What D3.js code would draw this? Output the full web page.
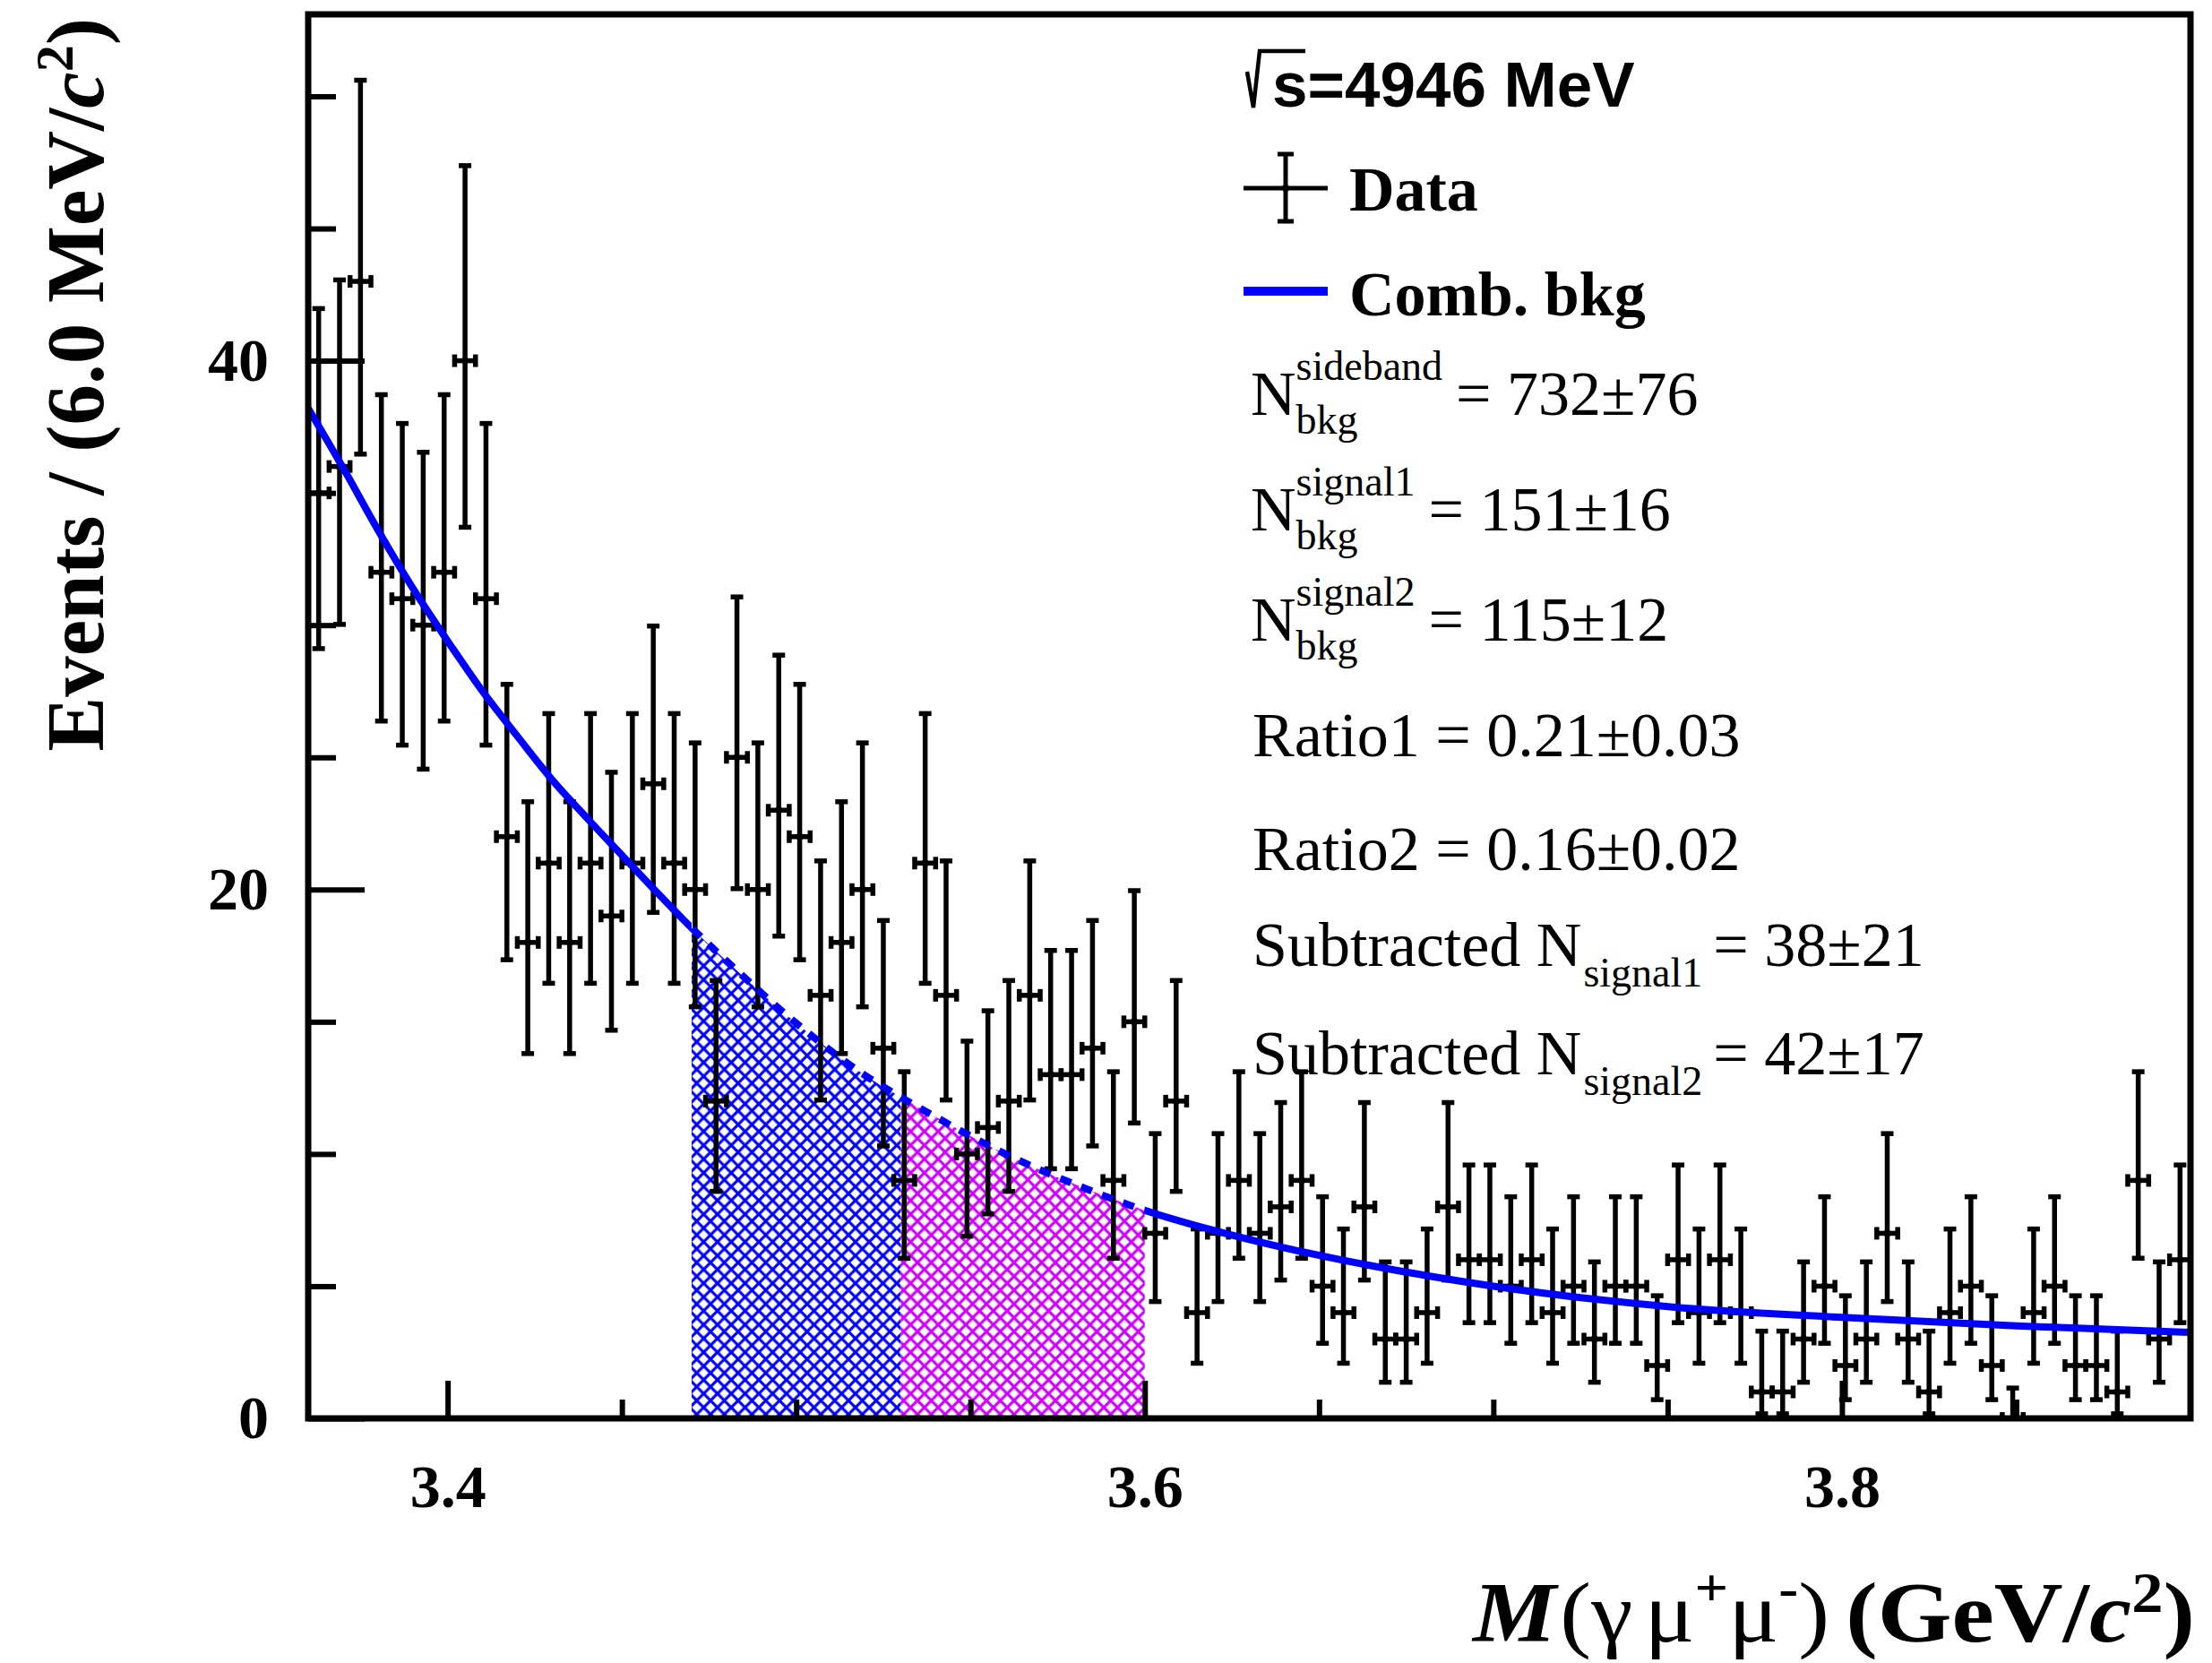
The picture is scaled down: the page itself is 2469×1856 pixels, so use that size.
<!DOCTYPE html>
<html>
<head>
<meta charset="utf-8">
<script src="https://cdn.jsdelivr.net/npm/d3@7"></script>
<style>
  html, body { margin: 0; padding: 0; background: #ffffff; }
  svg { display: block; }
</style>
</head>
<body>
<svg id="chart" width="2469" height="1856"></svg>
<script>
// ---- Histogram: M(gamma mu+ mu-), 6 MeV bins starting at 3.36 GeV ----
const binStart = 3.36;
const binWidth = 0.006;
const counts = [
  35, 36, 43, 32, 31, 30, 32, 40, 31, 22,
  18, 21, 18, 21, 19, 21, 24, 21, 20, 12,
  25, 20, 23, 22, 16, 18, 20, 14,  9, 21,
  16, 10, 11, 12, 16, 13, 13, 14,  9, 15,
   7, 12,  4,  7,  9,  7,  8,  9,  5,  4,
   8,  3,  3,  4,  8,  6,  6,  5,  6,  4,
   5,  3,  5,  5,  2,  6,  4,  6,  4,  1,
   1,  3,  5,  2,  3,  7,  3,  1,  4,  5,
   2,  0,  4,  5,  2,  2,  1,  9,  3,  6
];

// ---- Combinatorial background shape (sampled) ----
const bkgMass  = [3.36, 3.37, 3.38, 3.39, 3.40, 3.41, 3.42, 3.43, 3.44, 3.45,
                  3.46, 3.47, 3.48, 3.50, 3.52, 3.53, 3.54, 3.56, 3.58, 3.60,
                  3.62, 3.64, 3.66, 3.70, 3.75, 3.80, 3.85, 3.90];
const bkgValue = [38.2, 35.95, 33.6, 31.4, 29.4, 27.5, 25.8, 24.15, 22.7, 21.3,
                  19.9, 18.55, 17.3, 14.95, 12.95, 12.15, 11.4, 10.0, 8.85, 7.87,
                  7.1, 6.45, 5.9, 5.0, 4.23, 3.82, 3.5, 3.25];

// ---- Signal windows ----
const windowLow  = [3.47, 3.53];
const windowHigh = [3.53, 3.60];

// ---- Axis ticks ----
const xMajorTicks = [3.4, 3.6, 3.8];
const xMinorTicks = [3.45, 3.5, 3.55, 3.65, 3.7, 3.75, 3.85];
const yMajorTicks = [0, 20, 40];
const yMinorTicks = [5, 10, 15, 25, 30, 35, 45, 50];

// ---- Styling ----
const SERIF = "'Liberation Serif', 'Times New Roman', serif";
const SANS = "'Liberation Sans', Arial, sans-serif";
const BLUE = "#0000ff";
const MAGENTA = "#cf00ff";
const windowColor = [BLUE, MAGENTA];

const svg = d3.select("#chart");
svg.append("rect").attr("width", 2469).attr("height", 1856).attr("fill", "#ffffff");

const frame = { left: 344, right: 2445, top: 16, bottom: 1583 };
const x = d3.scaleLinear().domain([3.36, 3.90]).range([frame.left, frame.right]);
const y = d3.scaleLinear().domain([0, 53.1]).range([frame.bottom, frame.top]);

// Central 68.27% Poisson interval for an observed count (upper limit for n = 0)
function poissonCdf(k, mu) {
  let term = Math.exp(-mu), sum = term;
  for (let i = 1; i <= k; i++) { term *= mu / i; sum += term; }
  return sum;
}
function solveMu(k, target) {
  let lo = 0, hi = k + 80;
  for (let it = 0; it < 90; it++) {
    const mid = (lo + hi) / 2;
    if (poissonCdf(k, mid) > target) lo = mid; else hi = mid;
  }
  return (lo + hi) / 2;
}
const tailProb = 1 - 0.682689;
function poissonInterval(n) {
  if (n === 0) return [0, solveMu(0, tailProb)];
  return [solveMu(n - 1, 1 - tailProb / 2), solveMu(n, tailProb / 2)];
}

const bins = counts.map((n, i) => {
  const lo = binStart + i * binWidth;
  const [eLo, eHi] = poissonInterval(n);
  return { lo, hi: lo + binWidth, mid: lo + binWidth / 2, n, eLo, eHi };
});
const bkgPoints = bkgMass.map((m, i) => ({ m, v: bkgValue[i] }));

// ---- Clip paths and hatch patterns ----
const defs = svg.append("defs");
defs.append("clipPath").attr("id", "plotClip")
  .append("rect").attr("x", frame.left).attr("y", frame.top)
  .attr("width", frame.right - frame.left).attr("height", frame.bottom - frame.top);

const solidClip = defs.append("clipPath").attr("id", "solidClip");
solidClip.append("rect").attr("x", frame.left).attr("y", frame.top)
  .attr("width", x(windowLow[0]) - frame.left).attr("height", frame.bottom - frame.top);
solidClip.append("rect").attr("x", x(windowHigh[1])).attr("y", frame.top)
  .attr("width", frame.right - x(windowHigh[1])).attr("height", frame.bottom - frame.top);
defs.append("clipPath").attr("id", "dashClip")
  .append("rect").attr("x", x(windowLow[0])).attr("y", frame.top)
  .attr("width", x(windowHigh[1]) - x(windowLow[0])).attr("height", frame.bottom - frame.top);

const hatchSize = 15.4;
windowLow.forEach((lo, i) => {
  const p = defs.append("pattern").attr("id", "hatch" + i)
    .attr("patternUnits", "userSpaceOnUse")
    .attr("width", hatchSize).attr("height", hatchSize);
  p.append("path")
    .attr("d", `M-3,-3L${hatchSize + 3},${hatchSize + 3}M${hatchSize + 3},-3L-3,${hatchSize + 3}`)
    .attr("stroke", windowColor[i]).attr("stroke-width", 3.2).attr("fill", "none");
  defs.append("clipPath").attr("id", "winClip" + i)
    .append("rect").attr("x", x(lo)).attr("y", frame.top)
    .attr("width", x(windowHigh[i]) - x(lo)).attr("height", frame.bottom - frame.top);
});

// ---- Hatched background areas inside the signal windows ----
const area = d3.area().x(d => x(d.m)).y0(y(0)).y1(d => y(d.v)).curve(d3.curveMonotoneX);
windowLow.forEach((lo, i) => {
  svg.append("path").datum(bkgPoints)
    .attr("d", area)
    .attr("fill", `url(#hatch${i})`)
    .attr("clip-path", `url(#winClip${i})`);
});

// ---- Axes (ticks point into the frame) ----
function styleAxis(g) {
  g.select(".domain").remove();
  g.selectAll(".tick line").attr("stroke", "#000").attr("stroke-width", 6);
  g.selectAll(".tick text")
    .attr("font-family", SERIF).attr("font-weight", "bold")
    .attr("font-size", 68).attr("fill", "#000");
}
svg.append("g").attr("transform", `translate(0,${frame.bottom})`)
  .call(d3.axisBottom(x).tickValues(xMinorTicks).tickSize(-21).tickFormat(""))
  .call(styleAxis);
svg.append("g").attr("transform", `translate(0,${frame.bottom})`)
  .call(d3.axisBottom(x).tickValues(xMajorTicks).tickSize(-42).tickPadding(51)
    .tickFormat(d3.format(".1f")))
  .call(styleAxis);
svg.append("g").attr("transform", `translate(${frame.left},0)`)
  .call(d3.axisLeft(y).tickValues(yMinorTicks).tickSize(-31).tickFormat(""))
  .call(styleAxis);
svg.append("g").attr("transform", `translate(${frame.left},0)`)
  .call(d3.axisLeft(y).tickValues(yMajorTicks).tickSize(-63).tickPadding(44)
    .tickFormat(d3.format("d")))
  .call(styleAxis);

// ---- Data points with asymmetric Poisson errors ----
const dataG = svg.append("g").attr("clip-path", "url(#plotClip)");
const barWidth = 5.5, capHalf = 7, endHalf = 7;
const pts = dataG.selectAll("g.pt").data(bins).join("g").attr("class", "pt")
  .attr("stroke", "#000").attr("stroke-width", barWidth);
pts.append("line")
  .attr("x1", d => x(d.mid)).attr("x2", d => x(d.mid))
  .attr("y1", d => y(d.eLo)).attr("y2", d => y(d.eHi));
pts.append("line")
  .attr("x1", d => x(d.lo)).attr("x2", d => x(d.hi))
  .attr("y1", d => y(d.n)).attr("y2", d => y(d.n));
[d => d.eLo, d => d.eHi].forEach(f => {
  pts.append("line")
    .attr("x1", d => x(d.mid) - capHalf).attr("x2", d => x(d.mid) + capHalf)
    .attr("y1", d => y(f(d))).attr("y2", d => y(f(d)));
});
[d => d.lo, d => d.hi].forEach(f => {
  pts.append("line")
    .attr("x1", d => x(f(d))).attr("x2", d => x(f(d)))
    .attr("y1", d => y(d.n) - endHalf).attr("y2", d => y(d.n) + endHalf);
});
pts.append("circle").attr("cx", d => x(d.mid)).attr("cy", d => y(d.n))
  .attr("r", 4).attr("fill", "#000").attr("stroke", "none");

// ---- Background curve: solid outside the windows, dashed inside ----
const line = d3.line().x(d => x(d.m)).y(d => y(d.v)).curve(d3.curveMonotoneX);
svg.append("path").datum(bkgPoints).attr("d", line)
  .attr("fill", "none").attr("stroke", BLUE).attr("stroke-width", 8)
  .attr("clip-path", "url(#solidClip)");
svg.append("path").datum(bkgPoints).attr("d", line)
  .attr("fill", "none").attr("stroke", BLUE).attr("stroke-width", 8)
  .attr("stroke-dasharray", "13,12")
  .attr("clip-path", "url(#dashClip)");

// ---- Frame ----
svg.append("rect")
  .attr("x", frame.left).attr("y", frame.top)
  .attr("width", frame.right - frame.left).attr("height", frame.bottom - frame.top)
  .attr("fill", "none").attr("stroke", "#000").attr("stroke-width", 7);

// ---- Axis titles ----
const yTitle = svg.append("text")
  .attr("transform", "translate(115,20) rotate(-90)")
  .attr("text-anchor", "end")
  .attr("font-family", SERIF).attr("font-weight", "bold").attr("font-size", 91);
yTitle.append("tspan").text("Events / (6.0 MeV/");
yTitle.append("tspan").attr("font-style", "italic").text("c");
yTitle.append("tspan").attr("font-size", 60).attr("dy", -34).text("2");
yTitle.append("tspan").attr("dy", 34).text(")");

// x title, drawn in two pieces and widened to the frame's right edge
const xTitleA = svg.append("g").attr("transform", "translate(2042,1832) scale(1.1,1)")
  .append("text").attr("x", 0).attr("y", 0).attr("text-anchor", "end")
  .attr("font-family", SERIF).attr("font-size", 95);
xTitleA.append("tspan").attr("font-weight", "bold").attr("font-style", "italic").text("M");
xTitleA.append("tspan").attr("dx", 4).text("(γ");
xTitleA.append("tspan").attr("dx", 12).text("μ");
xTitleA.append("tspan").attr("font-size", 60).attr("font-weight", "bold").attr("dy", -40).text("+");
xTitleA.append("tspan").attr("dy", 40).text("μ");
xTitleA.append("tspan").attr("font-size", 60).attr("font-weight", "bold").attr("dy", -40).text("-");
xTitleA.append("tspan").attr("dy", 40).text(")");

const xTitleB = svg.append("g").attr("transform", "translate(2450,1832) scale(1.12,1)")
  .append("text").attr("x", 0).attr("y", 0).attr("text-anchor", "end")
  .attr("font-family", SERIF).attr("font-weight", "bold").attr("font-size", 95);
xTitleB.append("tspan").text("(GeV/");
xTitleB.append("tspan").attr("font-style", "italic").text("c");
xTitleB.append("tspan").attr("font-size", 63).attr("dy", -33).text("2");
xTitleB.append("tspan").attr("dy", 33).text(")");

// ---- Energy label ----
svg.append("path")
  .attr("d", "M1392,80L1399,120L1406,57L1457,57")
  .attr("fill", "none").attr("stroke", "#000").attr("stroke-width", 4.5);
svg.append("text").attr("x", 1420).attr("y", 119)
  .attr("font-family", SANS).attr("font-weight", "bold").attr("font-size", 71)
  .text("s=4946 MeV");

// ---- Legend ----
const legX0 = 1388, legX1 = 1482, legXc = (legX0 + legX1) / 2;
const leg = svg.append("g").attr("stroke", "#000").attr("stroke-width", 5);
leg.append("line").attr("x1", legX0).attr("x2", legX1).attr("y1", 210).attr("y2", 210);
leg.append("line").attr("x1", legXc).attr("x2", legXc).attr("y1", 172).attr("y2", 247);
leg.append("line").attr("x1", legXc - 9).attr("x2", legXc + 9).attr("y1", 172).attr("y2", 172);
leg.append("line").attr("x1", legXc - 9).attr("x2", legXc + 9).attr("y1", 247).attr("y2", 247);
svg.append("circle").attr("cx", legXc).attr("cy", 210).attr("r", 4).attr("fill", "#000");
svg.append("text").attr("x", 1506).attr("y", 235)
  .attr("font-family", SERIF).attr("font-weight", "bold").attr("font-size", 70).text("Data");
svg.append("line").attr("x1", legX0).attr("x2", legX1).attr("y1", 325).attr("y2", 325)
  .attr("stroke", BLUE).attr("stroke-width", 10);
svg.append("text").attr("x", 1506).attr("y", 352)
  .attr("font-family", SERIF).attr("font-weight", "bold").attr("font-size", 70).text("Comb. bkg");

// ---- Yield annotations ----
function plainText(xp, yp, str, size) {
  return svg.append("text").attr("x", xp).attr("y", yp)
    .attr("font-family", SERIF).attr("font-size", size).text(str);
}
function nWithScripts(xp, yBase, sup, sub, rest) {
  const n = plainText(xp, yBase, "N", 70);
  const nw = n.node().getComputedTextLength();
  const s1 = plainText(xp + nw, yBase - 39, sup, 46);
  const s2 = plainText(xp + nw, yBase + 21, sub, 46);
  const w = Math.max(s1.node().getComputedTextLength(), s2.node().getComputedTextLength());
  plainText(xp + nw + w + 15, yBase, rest, 70);
}
nWithScripts(1396, 463, "sideband", "bkg", "= 732±76");
nWithScripts(1396, 592, "signal1", "bkg", "= 151±16");
nWithScripts(1396, 715, "signal2", "bkg", "= 115±12");
plainText(1398, 844, "Ratio1 = 0.21±0.03", 70);
plainText(1398, 971, "Ratio2 = 0.16±0.02", 70);

function subtracted(xp, yBase, sub, rest) {
  const main = plainText(xp, yBase, "Subtracted N", 70);
  const mw = main.node().getComputedTextLength();
  const s = plainText(xp + mw + 2, yBase + 23, sub, 46);
  const sw = s.node().getComputedTextLength();
  plainText(xp + mw + 2 + sw + 12, yBase, rest, 70);
}
subtracted(1398, 1078, "signal1", "= 38±21");
subtracted(1398, 1199, "signal2", "= 42±17");
</script>
</body>
</html>
